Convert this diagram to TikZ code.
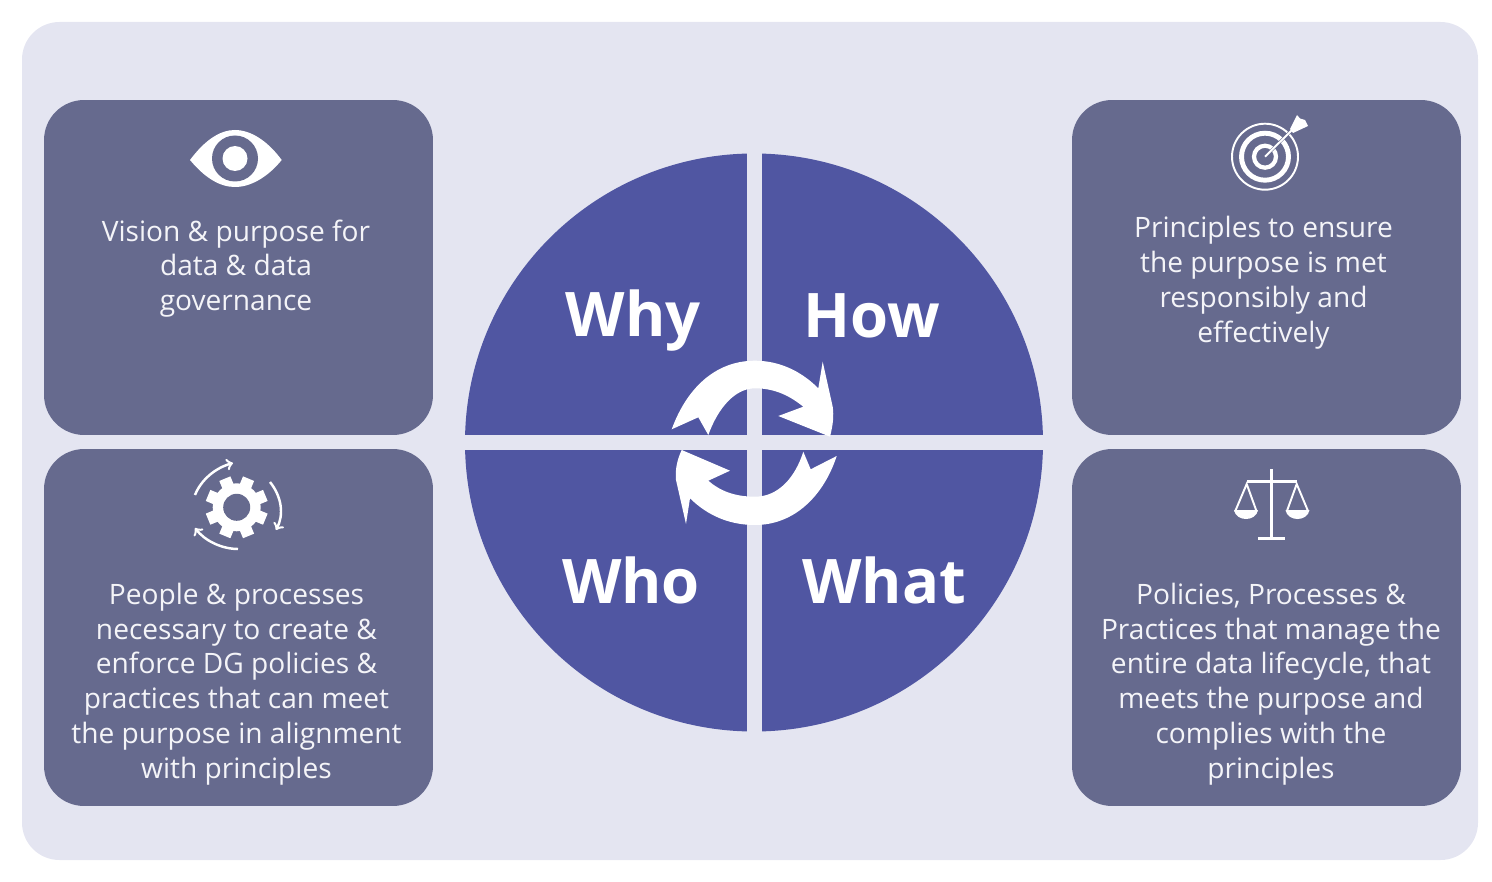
\documentclass[tikz,border=0pt]{standalone}
\usepackage{fontspec}
\setmainfont{Open Sans}
\definecolor{panelbg}{HTML}{E4E5F1}
\definecolor{boxfill}{HTML}{666A8E}
\definecolor{quadfill}{HTML}{5056A2}
\definecolor{icontext}{HTML}{F4F4F8}
\tikzset{
    infobox/.style={fill=boxfill, rounded corners=0.8cm, inner sep=0pt, minimum width=7.78cm},
    infotext/.style={text=icontext, align=center, inner sep=0pt, font=\fontsize{16}{19.84}\selectfont},
    quadlabel/.style={text=white, inner sep=0pt, font=\fontsize{35}{40}\selectfont\bfseries},
    iconline/.style={draw=white, line width=1.1pt},
}
\begin{document}
\begin{tikzpicture}[x=0.02cm, y=-0.02cm]
    \useasboundingbox (0,0) rectangle (1492,882);
    % background
    \fill[panelbg, rounded corners=0.75cm] (22,22) rectangle (1478,860);

    % four boxes
    \node[infobox, minimum height=6.7cm] (whybox) at (238.5,267.5) {};
    \node[infobox, minimum height=7.14cm] (whobox) at (238.5,627.5) {};
    \node[infobox, minimum height=6.7cm] (howbox) at (1266.5,267.5) {};
    \node[infobox, minimum height=7.14cm] (whatbox) at (1266.5,627.5) {};

    % circle and the cross over it
    \fill[quadfill] (754,442.5) circle (289);
    \fill[panelbg] (747,140) rectangle (762,745);
    \fill[panelbg] (455,435) rectangle (1055,450);

    % circular arrows
    \fill[white] (671.7,429.3) -- (698.3,417.3) -- (708.3,435)
        .. controls (718,408) and (735,388.3) .. (755,388.3)
        .. controls (775,388.3) and (790,396) .. (803.3,406.7)
        -- (778.3,416) -- (830,436.7)
        .. controls (833,425) and (834,416) .. (832.7,406.7)
        -- (822.7,361.7) -- (818.3,388.3)
        .. controls (800,370) and (778,360.7) .. (755,360.7)
        .. controls (714,360.7) and (686,390) .. (671.7,429.3) -- cycle;
    \fill[white] (836.7,456) -- (810.7,469.3) -- (803.3,451.7)
        .. controls (795,478) and (778,496.7) .. (755,496.7)
        .. controls (735,496.7) and (720,491) .. (708.3,480.7)
        -- (730,470.7) -- (681.7,450)
        .. controls (677,460) and (675,470) .. (676,480)
        -- (686,524) -- (690,498.3)
        .. controls (708,516) and (730,525) .. (755,525)
        .. controls (795,525) and (824,495) .. (836.7,456) -- cycle;

    % quadrant labels
    \node[quadlabel] (whylabel) at (633,321) {Why};
    \node[quadlabel] (howlabel) at (871.5,316) {How};
    \node[quadlabel] (wholabel) at (631,580) {Who};
    \node[quadlabel] (whatlabel) at (884,580) {What};

    % box texts
    \node[infotext] (whytext) at (236,268.5) {Vision \& purpose for\\data \& data\\governance};
    \node[infotext] (howtext) at (1263.5,282.5) {Principles to ensure\\the purpose is met\\responsibly and\\effectively};
    \node[infotext] (whotext) at (236.5,684) {People \& processes\\necessary to create \&\\enforce DG policies \&\\practices that can meet\\the purpose in alignment\\with principles};
    \node[infotext] (whattext) at (1271,684) {Policies, Processes \&\\Practices that manage the\\entire data lifecycle, that\\meets the purpose and\\complies with the\\principles};

    % eye
    \fill[white] (190,160) .. controls (205,140) and (220,130) .. (235,130)
        .. controls (250,130) and (267,140) .. (281.7,160)
        .. controls (267,178) and (250,187) .. (235,187)
        .. controls (220,187) and (205,178) .. (190,160) -- cycle;
    \fill[boxfill] (235,158.5) circle (23);
    \fill[white] (235,158.5) circle (12.5);

    % target
    \draw[iconline] (1265,156.7) circle (33);
    \draw[iconline, line width=2.8pt] (1265,156.7) circle (23.5);
    \draw[iconline, line width=2.4pt] (1265,156.7) circle (11);
    \draw[draw=boxfill, line width=1.6pt] (1265,156.7) -- (1292,130);
    \draw[iconline] (1265,156.7) -- (1292,130);
    \fill[white] (1290,129) -- (1297,115) -- (1300,118.5) -- (1305,120) -- (1308,126) -- (1293,133) -- cycle;

    % gear and its arrows
    \fill[white] (236.7,507.3) circle (24);
    \foreach \ang in {0,45,...,315}
        \fill[white, shift={(236.7,507.3)}, rotate=\ang+22.5] (-6,-31) rectangle (6,0);
    \fill[boxfill] (236.7,507.3) circle (13.5);
    \draw[iconline, line width=1.4pt, ->] (195,495) .. controls (201,480) and (215,468) .. (233,463);
    \draw[iconline, line width=1.4pt, ->] (270,482) .. controls (282,497) and (284,515) .. (276,530);
    \draw[iconline, line width=1.4pt, ->] (238,549) .. controls (222,549) and (205,541) .. (195,528);

    % scales
    \draw[iconline, line width=1.8pt] (1271.7,469) -- (1271.7,538);
    \draw[iconline, line width=1.8pt] (1258,538.5) -- (1285,538.5);
    \draw[iconline, line width=1.6pt] (1247,481.7) -- (1297,481.7);
    \draw[iconline] (1235,511.7) -- (1246.7,484) -- (1256.7,511.7);
    \draw[iconline] (1286.7,511.7) -- (1296.7,484) -- (1308.3,511.7);
    \fill[white] (1234,510) -- (1258,510) .. controls (1256,522) and (1236,522) .. (1234,510) -- cycle;
    \fill[white] (1285.5,510) -- (1309.5,510) .. controls (1307.5,522) and (1287.5,522) .. (1285.5,510) -- cycle;
\end{tikzpicture}
\end{document}
